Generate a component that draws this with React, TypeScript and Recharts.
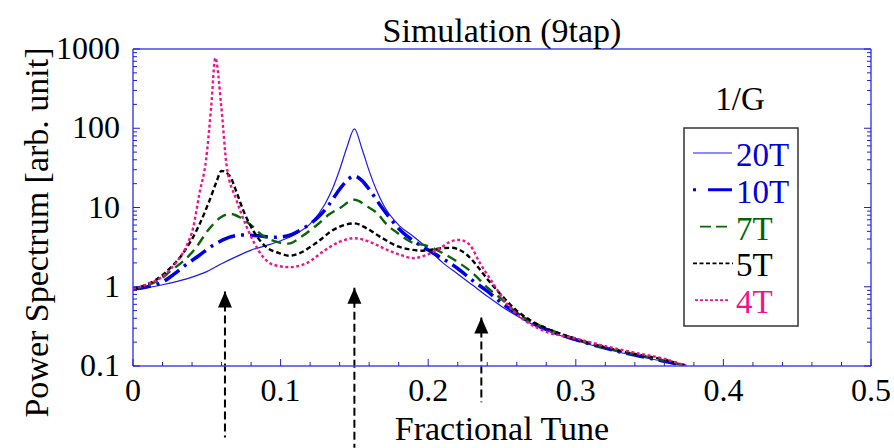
import React from 'react';
import { LineChart, Line, XAxis, YAxis, ReferenceLine, ReferenceDot, Legend } from 'recharts';

// ---------------- data ----------------
const tune20T = [0, 0.01, 0.02, 0.03, 0.04, 0.05, 0.06, 0.07, 0.08, 0.09, 0.1, 0.11, 0.12, 0.13, 0.135, 0.14, 0.145, 0.15, 0.155, 0.16, 0.165, 0.17, 0.18, 0.19, 0.2, 0.21, 0.22, 0.23, 0.24, 0.25, 0.26, 0.27, 0.28, 0.3, 0.32, 0.34, 0.36, 0.375];
const power20T = [0.94, 0.98, 1.06, 1.17, 1.32, 1.55, 1.95, 2.4, 2.9, 3.3, 3.8, 4.6, 6.2, 11, 17, 30, 58, 98, 56, 29, 16.5, 10.5, 6.0, 4.3, 3.0, 2.0, 1.45, 1.05, 0.76, 0.56, 0.43, 0.34, 0.28, 0.21, 0.165, 0.135, 0.114, 0.1];

const tune10T = [0, 0.01, 0.02, 0.028, 0.036, 0.045, 0.055, 0.065, 0.075, 0.085, 0.095, 0.105, 0.115, 0.125, 0.133, 0.14, 0.145, 0.15, 0.155, 0.16, 0.167, 0.174, 0.181, 0.19, 0.2, 0.21, 0.22, 0.23, 0.24, 0.25, 0.26, 0.27, 0.28, 0.3, 0.32, 0.34, 0.36, 0.375];
const power10T = [0.94, 1.0, 1.15, 1.45, 1.9, 2.5, 3.4, 4.2, 4.5, 4.4, 4.2, 4.4, 5.4, 7.4, 11, 17, 22, 25, 22, 17, 11, 7.4, 5.2, 3.8, 2.9, 2.25, 1.7, 1.2, 0.88, 0.62, 0.46, 0.35, 0.29, 0.215, 0.168, 0.137, 0.115, 0.1];

const tune7T = [0, 0.01, 0.02, 0.025, 0.034, 0.042, 0.051, 0.059, 0.066, 0.073, 0.08, 0.088, 0.097, 0.105, 0.115, 0.125, 0.133, 0.14, 0.15, 0.159, 0.165, 0.172, 0.179, 0.188, 0.2, 0.21, 0.22, 0.23, 0.24, 0.25, 0.26, 0.27, 0.28, 0.3, 0.32, 0.34, 0.36, 0.375];
const power7T = [0.94, 1.05, 1.3, 1.56, 2.1, 3.0, 5.2, 7.4, 8.3, 7.4, 6.0, 4.4, 3.7, 3.5, 4.4, 6.1, 8.2, 9.8, 12.5, 10.2, 8.6, 6.1, 4.8, 3.7, 3.25, 2.65, 2.05, 1.5, 0.98, 0.69, 0.47, 0.36, 0.3, 0.218, 0.17, 0.14, 0.118, 0.1];

const tune5T = [0, 0.01, 0.02, 0.024, 0.034, 0.045, 0.052, 0.0565, 0.06, 0.0655, 0.0705, 0.0745, 0.079, 0.084, 0.09, 0.099, 0.106, 0.113, 0.124, 0.136, 0.15, 0.158, 0.169, 0.18, 0.188, 0.196, 0.208, 0.216, 0.226, 0.234, 0.24, 0.246, 0.252, 0.26, 0.27, 0.28, 0.3, 0.32, 0.34, 0.36, 0.375];
const power5T = [0.94, 1.08, 1.4, 1.64, 2.66, 6.1, 12.5, 21, 29, 25, 15, 9.4, 6.2, 4.3, 3.2, 2.66, 2.46, 2.66, 3.56, 5.25, 6.3, 5.5, 4.1, 3.2, 2.95, 2.85, 3.05, 3.1, 2.55, 1.75, 1.25, 0.93, 0.7, 0.5, 0.37, 0.3, 0.22, 0.172, 0.142, 0.12, 0.1];

const tune4T = [0, 0.009, 0.02, 0.029, 0.036, 0.041, 0.045, 0.0495, 0.053, 0.0558, 0.0598, 0.0635, 0.07, 0.0768, 0.0824, 0.088, 0.095, 0.106, 0.118, 0.129, 0.14, 0.15, 0.16, 0.172, 0.181, 0.19, 0.197, 0.208, 0.215, 0.221, 0.228, 0.235, 0.244, 0.253, 0.262, 0.276, 0.3, 0.32, 0.34, 0.36, 0.375];
const power4T = [0.94, 1.06, 1.35, 2.0, 3.2, 5.8, 15, 40, 189, 773, 189, 33, 12.6, 5.8, 3.5, 2.4, 1.9, 1.77, 2.0, 2.8, 3.7, 4.1, 3.7, 2.93, 2.53, 2.3, 2.45, 3.07, 3.7, 3.9, 3.4, 2.0, 1.1, 0.62, 0.42, 0.29, 0.222, 0.178, 0.147, 0.123, 0.1];

const seriesNames = ['20T', '10T', '7T', '5T', '4T'];

// arrows (tune position, tip value, tail value)
const arrowTunes = [0.0623, 0.15, 0.236];
const arrowTips = [0.87, 0.97, 0.41];
const arrowTails = [0.0125, 0.0093, 0.035];

const xTicks = [0, 0.02, 0.04, 0.06, 0.08, 0.1, 0.12, 0.14, 0.16, 0.18, 0.2, 0.22, 0.24, 0.26, 0.28, 0.3, 0.32, 0.34, 0.36, 0.38, 0.4, 0.42, 0.44, 0.46, 0.48, 0.5];
const yTicks = [0.1, 0.2, 0.3, 0.4, 0.5, 0.6, 0.7, 0.8, 0.9, 1, 2, 3, 4, 5, 6, 7, 8, 9, 10, 20, 30, 40, 50, 60, 70, 80, 90, 100, 200, 300, 400, 500, 600, 700, 800, 900, 1000];

// ---------------- helpers / styles ----------------
const zip = (xs: number[], ys: number[]) => xs.map((x, i) => ({ x, y: ys[i] }));
const seriesData = [
  zip(tune20T, power20T),
  zip(tune10T, power10T),
  zip(tune7T, power7T),
  zip(tune5T, power5T),
  zip(tune4T, power4T),
];

const styles = [
  { color: '#1a1aee', text: '#0000dd', width: 1.2, dash: undefined as string | undefined, legendDash: undefined as string | undefined, x1: 23, x2: 62 },
  { color: '#0000e6', text: '#0000dd', width: 3.5, dash: '18 6 3 6', legendDash: '3 12 24 100', x1: 23, x2: 62 },
  { color: '#0a640a', text: '#006400', width: 2.4, dash: '10 6', legendDash: '11 5', x1: 30, x2: 57 },
  { color: '#000000', text: '#000000', width: 2.4, dash: '5 3', legendDash: '4 2.5', x1: 23, x2: 63 },
  { color: '#f0148c', text: '#f0148c', width: 2.4, dash: '3 2.5', legendDash: '3 2', x1: 25, x2: 58 },
];

const FONT = "'Liberation Serif', 'Times New Roman', Tinos, 'DejaVu Serif', serif";
const AXIS = '#4646f0';
const TICK = '#2020d8';
const tickTxt = { fontFamily: FONT, fontSize: 32 };
const labelTxt = { fontFamily: FONT, fontSize: 34 };
const legendTxt = { fontFamily: FONT, fontSize: 33 };

const isDecade = (v: number) => Math.abs(Math.log10(v) - Math.round(Math.log10(v))) < 1e-6;
const isMajorX = (v: number) => Math.abs(v * 10 - Math.round(v * 10)) < 1e-6;
const fmtY = (v: number) => (v < 1 ? v.toFixed(1) : String(Math.round(v)));
const fmtX = (v: number) => (v === 0 ? '0' : v.toFixed(1));

const LeftTick = (p: any) => {
  const v = p.payload.value;
  const major = isDecade(v);
  return (
    <g>
      <line x1={p.x} x2={p.x + (major ? 7 : 4)} y1={p.y} y2={p.y} stroke={TICK} strokeWidth={1} />
      {major && (
        <text x={p.x - 13} y={p.y + 10} textAnchor="end" style={tickTxt} fill="#000">
          {fmtY(v)}
        </text>
      )}
    </g>
  );
};
const RightTick = (p: any) => {
  const v = p.payload.value;
  const major = isDecade(v);
  return <line x1={p.x} x2={p.x - (major ? 7 : 4)} y1={p.y} y2={p.y} stroke={TICK} strokeWidth={1} />;
};
const BottomTick = (p: any) => {
  const v = p.payload.value;
  const major = isMajorX(v);
  return (
    <g>
      <line x1={p.x} x2={p.x} y1={p.y} y2={p.y - (major ? 7 : 4)} stroke={TICK} strokeWidth={1} />
      {major && (
        <text x={p.x} y={p.y + 35} textAnchor="middle" style={tickTxt} fill="#000">
          {fmtX(v)}
        </text>
      )}
    </g>
  );
};
const TopTick = (p: any) => {
  const v = p.payload.value;
  const major = isMajorX(v);
  return <line x1={p.x} x2={p.x} y1={p.y} y2={p.y + (major ? 7 : 4)} stroke={TICK} strokeWidth={1} />;
};

const ArrowHead = (p: any) => (
  <polygon points={`${p.cx},${p.cy} ${p.cx - 7},${p.cy + 16} ${p.cx + 7},${p.cy + 16}`} fill="#000" />
);

const LegendBox = () => (
  <svg width={140} height={260} style={{ overflow: 'visible', display: 'block' }}>
    <text x={70} y={35} textAnchor="middle" style={legendTxt} fill="#000">1/G</text>
    <rect x={14} y={53} width={114} height={198} fill="#fff" stroke="#333" strokeWidth={1.5} />
    {seriesNames.map((name, i) => {
      const s = styles[i];
      const base = 91 + i * 36.8;
      return (
        <g key={name}>
          <line x1={s.x1} x2={s.x2} y1={base - 13} y2={base - 13} stroke={s.color} strokeWidth={i === 1 ? 3 : i === 0 ? 1.2 : 1.8} strokeDasharray={s.legendDash} />
          <text x={66} y={base} style={legendTxt} fill={s.text}>{name}</text>
        </g>
      );
    })}
  </svg>
);

export default function App() {
  return (
    <div style={{ position: 'absolute', left: 0, top: 0, width: 894, height: 448, background: '#fff', fontFamily: FONT }}>
      <LineChart width={894} height={448} margin={{ top: 0, right: 0, bottom: 0, left: 0 }} style={{ fontFamily: FONT }}>
        <XAxis
          xAxisId="b"
          type="number"
          dataKey="x"
          domain={[0, 0.5]}
          ticks={xTicks}
          interval={0}
          height={82}
          tickSize={0}
          tickMargin={0}
          axisLine={{ stroke: AXIS, strokeWidth: 1.5 }}
          tickLine={false}
          tick={(p: any) => <BottomTick {...p} />}
          allowDataOverflow
          label={{
            content: (lp: any) => {
              const vb = lp.viewBox;
              return (
                <text x={vb.x + vb.width / 2} y={vb.y + 74} textAnchor="middle" style={labelTxt} fill="#000">
                  Fractional Tune
                </text>
              );
            },
          }}
        />
        <XAxis
          xAxisId="t"
          orientation="top"
          type="number"
          domain={[0, 0.5]}
          ticks={xTicks}
          interval={0}
          height={49}
          tickSize={0}
          tickMargin={0}
          axisLine={{ stroke: AXIS, strokeWidth: 1.5 }}
          tickLine={false}
          tick={(p: any) => <TopTick {...p} />}
          allowDataOverflow
          label={{
            content: (lp: any) => {
              const vb = lp.viewBox;
              return (
                <text x={vb.x + vb.width / 2} y={vb.y + vb.height - 7} textAnchor="middle" style={labelTxt} fill="#000">
                  Simulation (9tap)
                </text>
              );
            },
          }}
        />
        <YAxis
          yAxisId="l"
          scale="log"
          type="number"
          domain={[0.1, 1000]}
          ticks={yTicks}
          interval={0}
          width={133}
          tickSize={0}
          tickMargin={0}
          axisLine={{ stroke: AXIS, strokeWidth: 1.5 }}
          tickLine={false}
          tick={(p: any) => <LeftTick {...p} />}
          allowDataOverflow
          label={{
            content: (lp: any) => {
              const vb = lp.viewBox;
              const cx = 48;
              const cy = vb.y + vb.height / 2 + 25;
              return (
                <text x={cx} y={cy} transform={`rotate(-90 ${cx} ${cy})`} textAnchor="middle" style={labelTxt} fill="#000">
                  Power Spectrum [arb. unit]
                </text>
              );
            },
          }}
        />
        <YAxis
          yAxisId="r"
          orientation="right"
          scale="log"
          type="number"
          domain={[0.1, 1000]}
          ticks={yTicks}
          interval={0}
          width={23}
          tickSize={0}
          tickMargin={0}
          axisLine={{ stroke: AXIS, strokeWidth: 1.5 }}
          tickLine={false}
          tick={(p: any) => <RightTick {...p} />}
          allowDataOverflow
        />
        {seriesNames.map((name, i) => (
          <Line
            key={name}
            name={name}
            xAxisId="b"
            yAxisId="l"
            data={seriesData[i]}
            dataKey="y"
            type="monotone"
            stroke={styles[i].color}
            strokeWidth={styles[i].width}
            strokeDasharray={styles[i].dash}
            dot={false}
            activeDot={false}
            isAnimationActive={false}
          />
        ))}
        {arrowTunes.map((t, i) => (
          <ReferenceLine
            key={`al${i}`}
            xAxisId="b"
            yAxisId="l"
            ifOverflow="visible"
            segment={[{ x: t, y: arrowTips[i] }, { x: t, y: arrowTails[i] }]}
            stroke="#000"
            strokeWidth={2}
            strokeDasharray="8 4"
          />
        ))}
        {arrowTunes.map((t, i) => (
          <ReferenceDot
            key={`ad${i}`}
            xAxisId="b"
            yAxisId="l"
            x={t}
            y={arrowTips[i]}
            ifOverflow="visible"
            shape={(p: any) => <ArrowHead {...p} />}
          />
        ))}
        <Legend
          layout="vertical"
          align="center"
          verticalAlign="middle"
          wrapperStyle={{ left: 670, top: 75, width: 140, height: 260 }}
          content={() => <LegendBox />}
        />
      </LineChart>
    </div>
  );
}
